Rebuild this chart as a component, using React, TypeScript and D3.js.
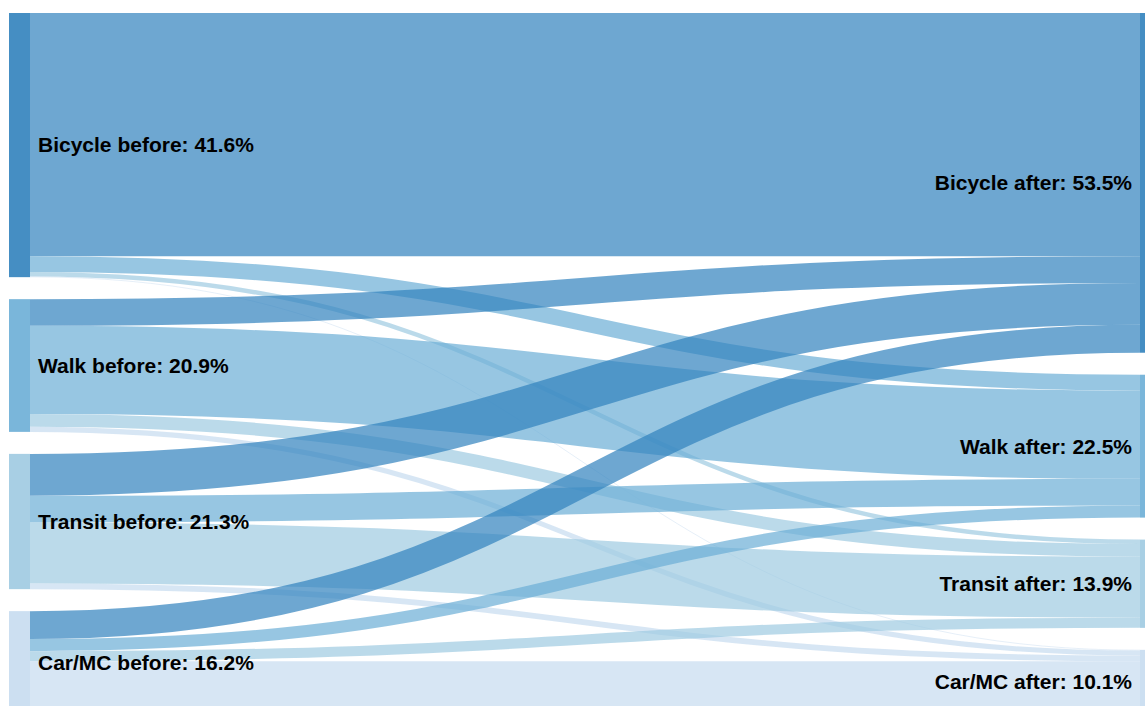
import { useEffect } from "react";
import * as d3 from "d3";

// modes, same order on both sides
const modes = ["Bicycle", "Walk", "Transit", "Car/MC"];
const beforeShare = [41.6, 20.9, 21.3, 16.2];
const afterShare = [53.5, 22.5, 13.9, 10.1];

// flows[i][j] = share moving from mode i (before) to mode j (after)
const flows = [
  [38.3, 2.5, 0.7, 0.1],
  [4.2, 13.9, 2.0, 0.8],
  [6.6, 4.2, 9.6, 0.9],
  [4.4, 1.9, 1.6, 8.3],
];

const colors = ["#3182bd", "#6baed6", "#9ecae1", "#c6dbef"];

interface NodeBox {
  name: string;
  value: number;
  y0: number;
  y1: number;
  x0: number;
  x1: number;
  color: string;
}

export default function App() {
  useEffect(() => {
    document.body.style.margin = "0";
    document.body.style.overflow = "hidden";
  }, []);

  const width = 1145;
  const height = 706;
  const nodeW = 21;
  const pad = 22;
  const top = 13;
  const bottom = 714;
  const leftX = 9;
  const rightX = 1140;

  const total = d3.sum(beforeShare);
  const ky = (bottom - top - pad * (modes.length - 1)) / total;
  const h = d3.scaleLinear().domain([0, total]).range([0, total * ky]);

  const stack = (vals: number[], x0: number, suffix: string): NodeBox[] => {
    let y = top;
    return vals.map((v, i) => {
      const n = {
        name: `${modes[i]} ${suffix}`,
        value: v,
        y0: y,
        y1: y + h(v),
        x0,
        x1: x0 + nodeW,
        color: colors[i],
      };
      y = n.y1 + pad;
      return n;
    });
  };

  const left = stack(beforeShare, leftX, "before");
  const right = stack(afterShare, rightX, "after");

  // outgoing links stacked by target order, incoming by source order
  const srcOff = left.map((n) => n.y0);
  const srcY: number[][] = modes.map(() => []);
  for (let i = 0; i < modes.length; i++) {
    for (let j = 0; j < modes.length; j++) {
      const w = h(flows[i][j]);
      srcY[i][j] = srcOff[i] + w / 2;
      srcOff[i] += w;
    }
  }
  const tgtOff = right.map((n) => n.y0);
  const tgtY: number[][] = modes.map(() => []);
  for (let j = 0; j < modes.length; j++) {
    for (let i = 0; i < modes.length; i++) {
      const w = h(flows[i][j]);
      tgtY[i][j] = tgtOff[j] + w / 2;
      tgtOff[j] += w;
    }
  }

  const linkGen = d3.linkHorizontal<any, [number, number]>()
    .source((d: any) => d.s)
    .target((d: any) => d.t);

  const links: { d: string; w: number; color: string }[] = [];
  for (let i = 0; i < modes.length; i++) {
    for (let j = 0; j < modes.length; j++) {
      links.push({
        d:
          linkGen({
            s: [left[i].x1, srcY[i][j]],
            t: [right[j].x0, tgtY[i][j]],
          } as any) || "",
        w: h(flows[i][j]),
        color: colors[j],
      });
    }
  }

  const font = "'Liberation Sans', Arial, Helvetica, sans-serif";

  return (
    <svg width={width} height={height} style={{ display: "block" }}>
      <g fill="none">
        {links.map((l, k) => (
          <path
            key={k}
            d={l.d}
            stroke={l.color}
            strokeOpacity={0.7}
            strokeWidth={Math.max(0.6, l.w)}
          />
        ))}
      </g>
      <g>
        {[...left, ...right].map((n) => (
          <rect
            key={n.name}
            x={n.x0}
            y={n.y0}
            width={n.x1 - n.x0}
            height={n.y1 - n.y0}
            fill={n.color}
            fillOpacity={0.9}
          />
        ))}
      </g>
      <g fontFamily={font} fontWeight="bold" fontSize={21} fill="#000">
        {left.map((n) => (
          <text key={n.name} x={n.x1 + 8} y={(n.y0 + n.y1) / 2} dy="0.35em">
            {`${n.name}: ${n.value.toFixed(1)}%`}
          </text>
        ))}
        {right.map((n) => (
          <text
            key={n.name}
            x={n.x0 - 8}
            y={(n.y0 + n.y1) / 2}
            dy="0.35em"
            textAnchor="end"
          >
            {`${n.name}: ${n.value.toFixed(1)}%`}
          </text>
        ))}
      </g>
    </svg>
  );
}
